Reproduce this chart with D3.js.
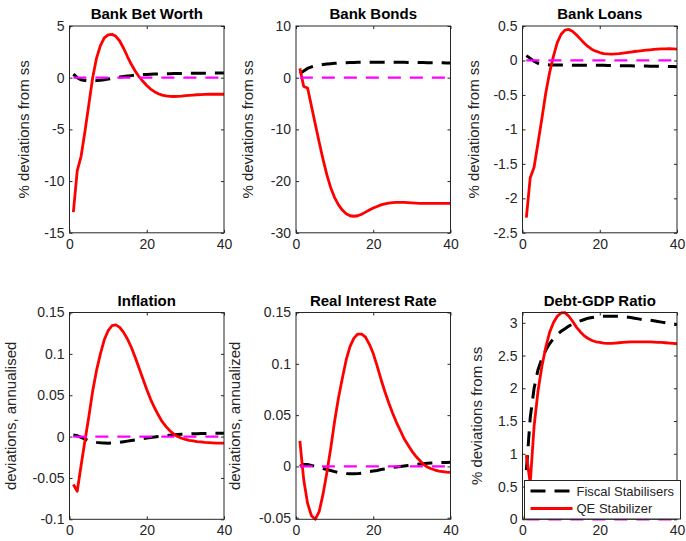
<!DOCTYPE html>
<html>
<head>
<meta charset="utf-8">
<script src="https://cdn.jsdelivr.net/npm/d3@7"></script>
<style>
  html, body { margin: 0; padding: 0; background: #fff; }
  svg { display: block; font-family: "Liberation Sans", Arial, Helvetica, sans-serif; }
</style>
</head>
<body>
<svg id="fig" width="686" height="541"></svg>
<script>
// Horizon (quarters after the shock)
const periods = [1,2,3,4,5,6,7,8,9,10,11,12,13,14,15,16,17,18,19,20,
                 21,22,23,24,25,26,27,28,29,30,31,32,33,34,35,36,37,38,39,40];

// Reference (steady-state) line shared by every panel
const steadyState = [0,0,0,0,0,0,0,0,0,0,0,0,0,0,0,0,0,0,0,0,
                     0,0,0,0,0,0,0,0,0,0,0,0,0,0,0,0,0,0,0,0];

// Bank net worth
const netWorthFiscal = [0.35,0.0,-0.2,-0.27,-0.3,-0.3,-0.28,-0.25,-0.2,-0.13,-0.06,0.0,0.06,0.11,0.16,0.2,0.24,0.27,0.3,0.32,
                        0.34,0.35,0.36,0.37,0.38,0.39,0.4,0.41,0.41,0.42,0.42,0.43,0.43,0.44,0.44,0.44,0.45,0.45,0.45,0.45];
const netWorthQE = [-13.0,-9.0,-7.6,-5.2,-2.6,0.0,1.9,3.1,3.85,4.15,4.2,4.0,3.55,2.85,2.05,1.3,0.65,0.1,-0.35,-0.75,
                    -1.1,-1.35,-1.55,-1.68,-1.76,-1.8,-1.82,-1.81,-1.78,-1.74,-1.71,-1.68,-1.65,-1.63,-1.61,-1.6,-1.6,-1.6,-1.6,-1.6];

// Bank bonds
const bondsFiscal = [0.8,1.3,1.8,2.1,2.3,2.45,2.55,2.65,2.72,2.78,2.83,2.87,2.9,2.93,2.95,2.97,2.98,2.99,3.0,3.0,
                     3.0,3.0,3.0,3.0,3.0,2.99,2.98,2.97,2.96,2.95,2.94,2.93,2.92,2.91,2.9,2.89,2.88,2.87,2.86,2.85];
const bondsQE = [1.8,-1.7,-2.0,-5.5,-9.0,-12.5,-15.8,-18.8,-21.3,-23.2,-24.6,-25.6,-26.3,-26.7,-26.8,-26.7,-26.4,-26.0,-25.6,-25.2,
                 -24.9,-24.6,-24.4,-24.25,-24.15,-24.1,-24.1,-24.1,-24.15,-24.2,-24.25,-24.3,-24.3,-24.3,-24.3,-24.3,-24.3,-24.3,-24.3,-24.3];

// Bank loans
const loansFiscal = [0.07,0.03,-0.01,-0.04,-0.055,-0.062,-0.065,-0.066,-0.067,-0.067,-0.067,-0.068,-0.068,-0.068,-0.069,-0.069,-0.069,-0.07,-0.07,-0.07,
                     -0.071,-0.072,-0.073,-0.074,-0.075,-0.076,-0.077,-0.078,-0.079,-0.08,-0.081,-0.082,-0.083,-0.084,-0.085,-0.086,-0.087,-0.088,-0.089,-0.09];
const loansQE = [-2.28,-1.7,-1.55,-1.2,-0.85,-0.48,-0.18,0.06,0.26,0.38,0.44,0.45,0.42,0.37,0.31,0.25,0.2,0.16,0.135,0.115,
                 0.1,0.095,0.093,0.095,0.1,0.107,0.115,0.122,0.13,0.137,0.143,0.15,0.155,0.16,0.164,0.167,0.169,0.17,0.168,0.165];

// Inflation
const inflationFiscal = [0.002,0.001,-0.001,-0.003,-0.005,-0.006,-0.007,-0.0075,-0.0078,-0.008,-0.0078,-0.0075,-0.007,-0.0062,-0.0055,-0.0048,-0.004,-0.0032,-0.0025,-0.0018,
                         -0.0011,-0.0005,0.0001,0.0007,0.0012,0.0017,0.0021,0.0025,0.0028,0.003,0.0032,0.0034,0.0035,0.0036,0.0037,0.0038,0.0039,0.0039,0.004,0.004];
const inflationQE = [-0.058,-0.066,-0.035,-0.005,0.024,0.055,0.08,0.1,0.117,0.128,0.134,0.135,0.132,0.126,0.118,0.108,0.096,0.083,0.07,0.057,
                     0.045,0.035,0.026,0.018,0.012,0.007,0.003,0.0,-0.002,-0.0035,-0.0045,-0.0053,-0.006,-0.0065,-0.007,-0.0073,-0.0076,-0.0078,-0.008,-0.008];

// Real interest rate
const realRateFiscal = [0.0,0.002,0.002,0.001,0.0,-0.001,-0.002,-0.003,-0.004,-0.005,-0.006,-0.0065,-0.007,-0.0072,-0.0072,-0.007,-0.0065,-0.006,-0.005,-0.0045,
                        -0.004,-0.003,-0.0025,-0.0018,-0.001,-0.0005,0.0,0.0005,0.001,0.0015,0.0019,0.0023,0.0027,0.003,0.0033,0.0035,0.0037,0.0038,0.0039,0.004];
const realRateQE = [0.025,-0.013,-0.036,-0.048,-0.0514,-0.044,-0.027,-0.006,0.018,0.044,0.067,0.086,0.104,0.117,0.125,0.129,0.129,0.126,0.119,0.11,
                    0.098,0.085,0.073,0.062,0.052,0.043,0.035,0.027,0.021,0.015,0.01,0.006,0.002,-0.0005,-0.0022,-0.0035,-0.0045,-0.005,-0.0055,-0.0058];

// Debt-to-GDP ratio
const debtFiscal = [0.75,1.55,2.0,2.28,2.45,2.58,2.68,2.76,2.82,2.87,2.91,2.95,2.98,3.01,3.03,3.05,3.07,3.08,3.09,3.1,
                    3.1,3.1,3.1,3.1,3.1,3.09,3.09,3.08,3.07,3.06,3.05,3.05,3.04,3.03,3.02,3.01,3.0,2.99,2.98,2.97];
const debtQE = [0.98,0.55,1.42,1.95,2.33,2.62,2.85,3.0,3.1,3.15,3.155,3.1,3.02,2.93,2.86,2.8,2.76,2.73,2.71,2.7,
                2.69,2.685,2.685,2.69,2.695,2.7,2.705,2.71,2.71,2.71,2.71,2.71,2.71,2.705,2.7,2.7,2.695,2.69,2.685,2.68];

// Panel titles, axis labels and tick values
const titles = ["Bank Bet Worth", "Bank Bonds", "Bank Loans", "Inflation", "Real Interest Rate", "Debt-GDP Ratio"];
const yLabels = ["% deviations from ss", "% deviations from ss", "% deviations from ss",
                 "deviations, annualised", "deviations, annualized", "% deviations from ss"];
const xTicks = [0, 20, 40];
const yTicks = [
  [-15, -10, -5, 0, 5],
  [-30, -20, -10, 0, 10],
  [-2.5, -2, -1.5, -1, -0.5, 0, 0.5],
  [-0.1, -0.05, 0, 0.05, 0.1, 0.15],
  [-0.05, 0, 0.05, 0.1, 0.15],
  [0, 0.5, 1, 1.5, 2, 2.5, 3]
];
const yDomains = [[-15, 5], [-30, 10], [-2.5, 0.5], [-0.1, 0.15], [-0.0515, 0.15], [0, 3.157]];
const fiscalSeries = [netWorthFiscal, bondsFiscal, loansFiscal, inflationFiscal, realRateFiscal, debtFiscal];
const qeSeries = [netWorthQE, bondsQE, loansQE, inflationQE, realRateQE, debtQE];
const legendNames = ["Fiscal Stabilisers", "QE Stabilizer"];

// Layout
const colLeft = [69.5, 296, 522.5];
const rowTop = [26, 312.5];
const plotW = 154.5, plotH = 206.8;
const axisColor = "#262626";
const fmt = v => String(+v.toFixed(4));

const svg = d3.select("#fig");

titles.forEach((title, i) => {
  const col = i % 3, row = Math.floor(i / 3);
  const g = svg.append("g").attr("transform", `translate(${colLeft[col]},${rowTop[row]})`);

  const x = d3.scaleLinear().domain([0, 40]).range([0, plotW]);
  const y = d3.scaleLinear().domain(yDomains[i]).range([plotH, 0]);

  // clip region for the curves
  const clipId = "clip" + i;
  g.append("clipPath").attr("id", clipId)
    .append("rect").attr("x", -2).attr("y", -2).attr("width", plotW + 4).attr("height", plotH + 4);

  // axes with inward ticks, mirrored on top/right
  const tick = 3;
  const styleAxis = sel => {
    sel.selectAll(".domain").remove();
    sel.selectAll("line").attr("stroke", axisColor);
    sel.selectAll("text").attr("fill", axisColor).style("font-size", "14px").style("font-family", "Liberation Sans, Arial, sans-serif");
  };
  g.append("g").attr("transform", `translate(0,${plotH})`)
    .call(d3.axisBottom(x).tickValues(xTicks).tickFormat(fmt).tickSizeInner(-tick).tickSizeOuter(0).tickPadding(6))
    .call(styleAxis);
  g.append("g")
    .call(d3.axisTop(x).tickValues(xTicks).tickFormat("").tickSizeInner(-tick).tickSizeOuter(0))
    .call(styleAxis);
  g.append("g")
    .call(d3.axisLeft(y).tickValues(yTicks[i]).tickFormat(fmt).tickSizeInner(-tick).tickSizeOuter(0).tickPadding(5))
    .call(styleAxis);
  g.append("g").attr("transform", `translate(${plotW},0)`)
    .call(d3.axisRight(y).tickValues(yTicks[i]).tickFormat("").tickSizeInner(-tick).tickSizeOuter(0))
    .call(styleAxis);

  const line = d3.line().x((d, k) => x(periods[k])).y(d => y(d));
  const curves = g.append("g").attr("clip-path", `url(#${clipId})`);

  curves.append("path").datum(fiscalSeries[i]).attr("d", line)
    .attr("fill", "none").attr("stroke", "#000").attr("stroke-width", 3)
    .attr("stroke-dasharray", "15,9");
  curves.append("path").datum(qeSeries[i]).attr("d", line)
    .attr("fill", "none").attr("stroke", "#ff0000").attr("stroke-width", 2.8)
    .attr("stroke-linejoin", "round");
  curves.append("path").datum(steadyState).attr("d", line)
    .attr("fill", "none").attr("stroke", "#ff00ff").attr("stroke-width", 2.2)
    .attr("stroke-dasharray", "13,9");

  // box
  g.append("rect").attr("x", 0).attr("y", 0).attr("width", plotW).attr("height", plotH)
    .attr("fill", "none").attr("stroke", axisColor).attr("stroke-width", 1);

  // title
  g.append("text").attr("x", plotW / 2).attr("y", -7)
    .attr("text-anchor", "middle").attr("font-weight", "bold").attr("font-size", 15)
    .attr("fill", "#000").text(title);

  // y label
  const labelX = [-41, -43, -44, -54, -56, -41][i];
  g.append("text")
    .attr("transform", `translate(${labelX},${plotH / 2}) rotate(-90)`)
    .attr("text-anchor", "middle").attr("font-size", 15).attr("fill", axisColor)
    .text(yLabels[i]);

  // legend in the last panel
  if (i === 5) {
    const lg = svg.append("g").attr("transform", "translate(524.5,480.5)");
    lg.append("rect").attr("width", 156).attr("height", 38.5)
      .attr("fill", "#fff").attr("stroke", axisColor).attr("stroke-width", 1);
    const rows = [
      { name: legendNames[0], stroke: "#000", dash: "15,9", w: 3, y: 10.5 },
      { name: legendNames[1], stroke: "#ff0000", dash: null, w: 2.8, y: 28 }
    ];
    rows.forEach(r => {
      lg.append("line").attr("x1", 6).attr("x2", 48).attr("y1", r.y).attr("y2", r.y)
        .attr("stroke", r.stroke).attr("stroke-width", r.w)
        .attr("stroke-dasharray", r.dash);
      lg.append("text").attr("x", 52).attr("y", r.y + 4.5).attr("font-size", 13)
        .attr("fill", axisColor).text(r.name);
    });
  }
});
</script>
</body>
</html>
